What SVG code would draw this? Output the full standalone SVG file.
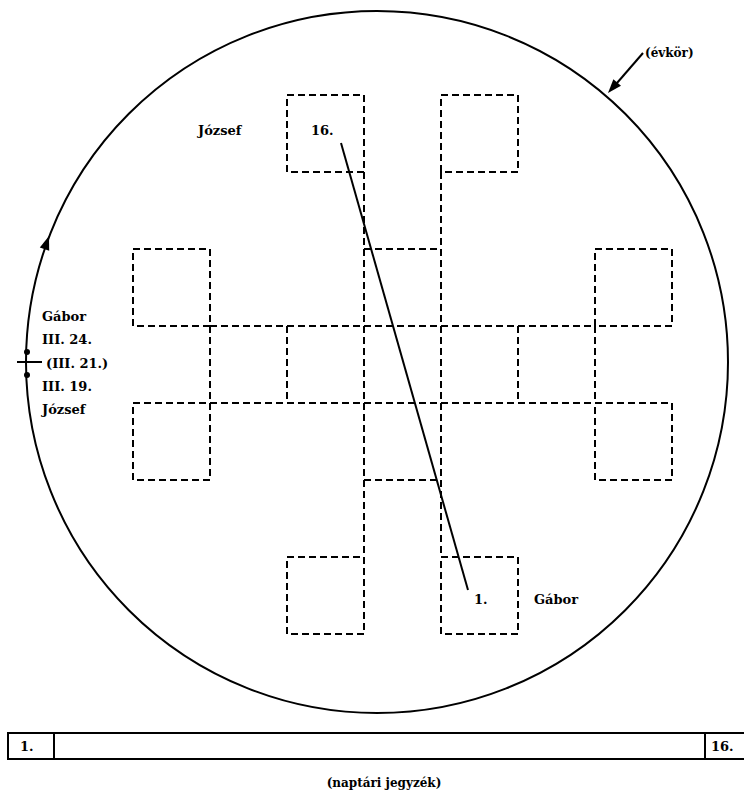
<svg xmlns="http://www.w3.org/2000/svg" width="744" height="794" viewBox="0 0 744 794">
<style>
.t{font-family:"DejaVu Serif","Liberation Serif",serif;font-weight:bold;font-size:13px;fill:#000}
.sm{font-size:12px}
.d{fill:none;stroke:#000;stroke-width:2;stroke-dasharray:7 4}
.s{fill:none;stroke:#000;stroke-width:2}
</style>
<rect width="744" height="794" fill="#fff"/>
<g id="year-circle">
<circle class="s" cx="377" cy="362" r="351"/>
<polygon points="49,236 49.2,250.8 39.8,247.6" fill="#000"/>
<line class="s" x1="17" y1="362" x2="42" y2="362"/>
<circle cx="27" cy="352" r="3" fill="#000"/>
<circle cx="27" cy="375" r="3" fill="#000"/>
</g>
<g id="evkor-label">
<line class="s" x1="643" y1="53" x2="617" y2="83"/>
<polygon points="608,93 621,85.8 613.4,79.2" fill="#000"/>
<text class="t sm" x="645" y="57">(évkör)</text>
</g>
<g id="grid">
<rect class="d" x="287" y="95" width="77" height="77"/>
<rect class="d" x="441" y="95" width="77" height="77"/>
<rect class="d" x="133" y="249" width="77" height="77"/>
<rect class="d" x="133" y="403" width="77" height="77"/>
<rect class="d" x="595" y="249" width="77" height="77"/>
<rect class="d" x="595" y="403" width="77" height="77"/>
<rect class="d" x="287" y="557" width="77" height="77"/>
<rect class="d" x="441" y="557" width="77" height="77"/>
<path class="d" d="M210 326H595M210 403H595M364 172V557M441 172V557M364 249H441M364 480H441M287 326V403M518 326V403M210 326V403M595 326V403"/>
</g>
<g id="connectors">
<line class="s" x1="341" y1="143" x2="468" y2="590"/>
</g>
<g id="labels">
<text class="t" x="198" y="135">József</text>
<text class="t" x="311" y="135">16.</text>
<text class="t" x="474" y="604">1.</text>
<text class="t" x="534" y="604">Gábor</text>
<text class="t" x="42" y="321">Gábor</text>
<text class="t" x="42" y="344">III. 24.</text>
<text class="t" x="46" y="368">(III. 21.)</text>
<text class="t" x="42" y="391">III. 19.</text>
<text class="t" x="42" y="414">József</text>
</g>
<g id="calendar">
<rect class="s" x="8" y="733" width="740" height="26"/>
<line class="s" x1="54" y1="733" x2="54" y2="759"/>
<line class="s" x1="705" y1="733" x2="705" y2="759"/>
<text class="t" x="20" y="751">1.</text>
<text class="t" x="711" y="751">16.</text>
<text class="t sm" x="384" y="787" text-anchor="middle">(naptári jegyzék)</text>
</g>
</svg>
